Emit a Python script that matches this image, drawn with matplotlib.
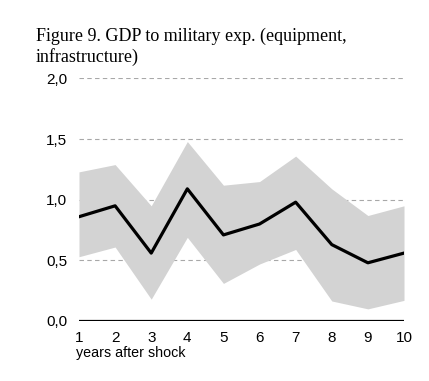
import matplotlib
matplotlib.use("Agg")
import matplotlib.pyplot as plt
from matplotlib.ticker import FuncFormatter

years = [1, 2, 3, 4, 5, 6, 7, 8, 9, 10]
response = [0.86, 0.95, 0.56, 1.09, 0.71, 0.80, 0.98, 0.63, 0.48, 0.56]
upper = [1.23, 1.29, 0.95, 1.48, 1.12, 1.15, 1.36, 1.09, 0.87, 0.95]
lower = [0.53, 0.61, 0.18, 0.69, 0.31, 0.47, 0.59, 0.165, 0.10, 0.17]
y_ticks = [0.0, 0.5, 1.0, 1.5, 2.0]
title = "Figure 9. GDP to military exp. (equipment,\ninfrastructure)"
xlabel = "years after shock"

fig = plt.figure(figsize=(4.29, 3.81), dpi=100)
ax = fig.add_axes([79/429, 1 - 321/381, (404 - 79)/429, (321 - 78.5)/381])

ax.fill_between(years, lower, upper, color="#d3d3d3", linewidth=0, zorder=1)
ax.plot(years, response, color="black", linewidth=2.3, zorder=3)

ax.set_xlim(1, 10)
ax.set_ylim(0, 2.0)
ax.set_yticks(y_ticks)
ax.set_xticks(years)
ax.yaxis.set_major_formatter(FuncFormatter(lambda v, p: f"{v:.1f}".replace(".", ",")))
for v in y_ticks[1:]:
    ax.axhline(v, color="#a8a8a8", linestyle=(0, (4, 3)), linewidth=0.8, zorder=0)
ax.axhline(0, color="black", linewidth=1.6, zorder=4)

for s in ax.spines.values():
    s.set_visible(False)
ax.tick_params(length=0, labelsize=11, colors="black")
ax.tick_params(axis="y", pad=8.5)
ax.tick_params(axis="x", pad=7)
for lbl in ax.get_xticklabels() + ax.get_yticklabels():
    lbl.set_fontfamily("Liberation Sans")

fig.text(76/429, 1 - 357/381, xlabel, fontsize=10.3, family="Liberation Sans", ha="left", va="baseline")
fig.text(36/429, 1 - 61.5/381, title, fontsize=13, family="Liberation Serif", ha="left", va="baseline", linespacing=1.2)

fig.savefig("out.png", dpi=100)
